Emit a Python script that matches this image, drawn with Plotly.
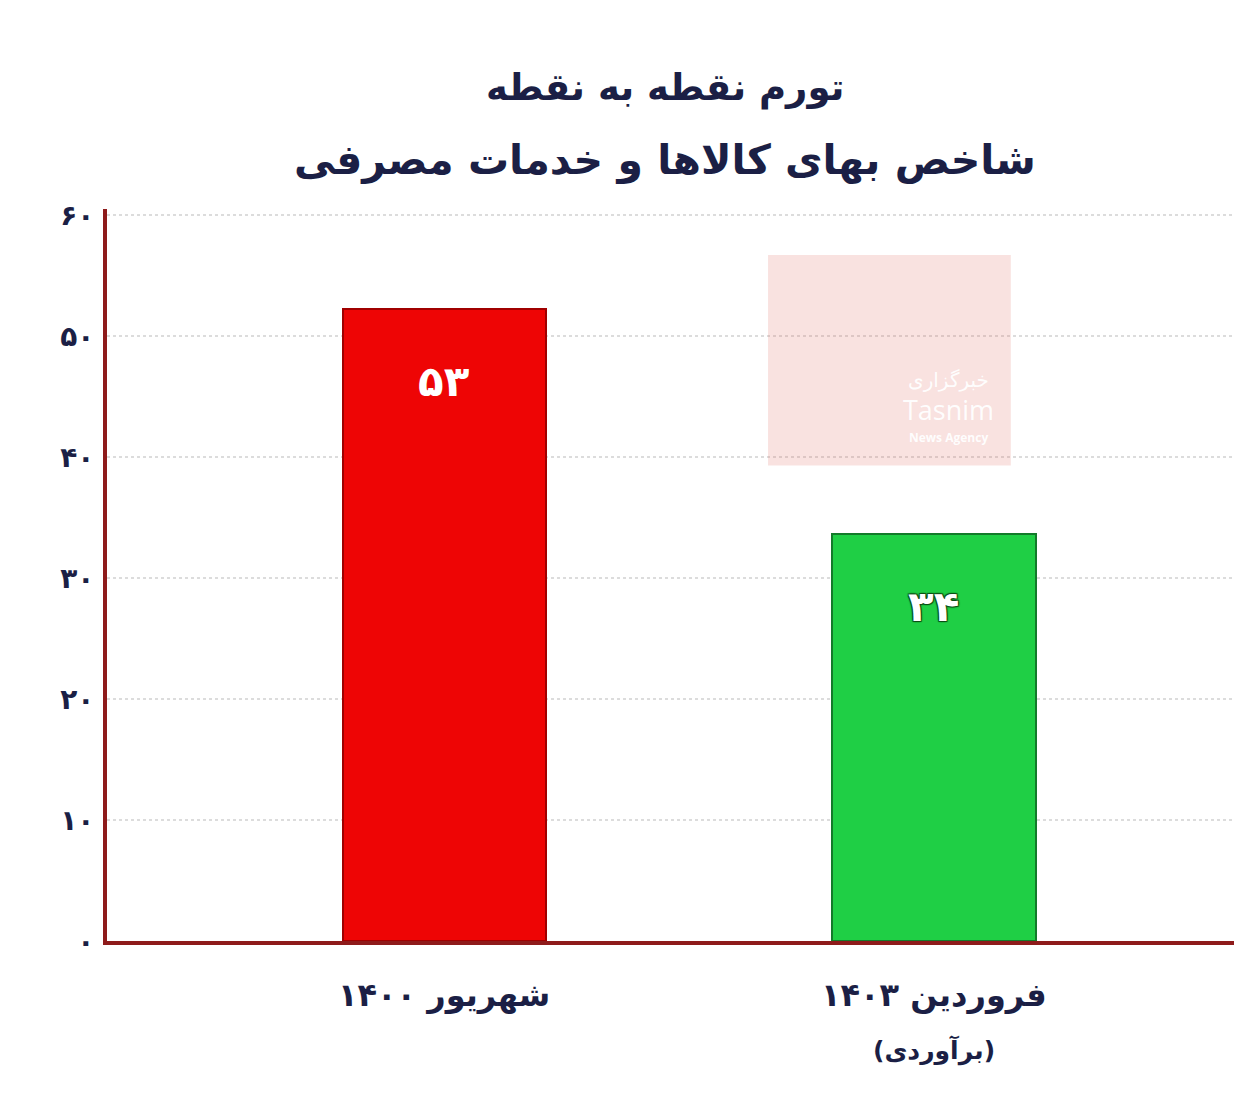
import plotly.graph_objects as go

# ---- data ----
title_lines = ["تورم نقطه به نقطه", "شاخص بهای کالاها و خدمات مصرفی"]
categories = ["شهریور ۱۴۰۰", "فروردین ۱۴۰۳"]
category_notes = ["", "(برآوردی)"]
values = [52.2, 33.6]
value_labels = ["۵۳", "۳۴"]
bar_colors = ["#ee0505", "#1fcf45"]
bar_edges = ["#a00000", "#137a2a"]
label_colors = ["#ffffff", "#ffffff"]
tick_vals = [0, 10, 20, 30, 40, 50, 60]
tick_labels = ["۰", "۱۰", "۲۰", "۳۰", "۴۰", "۵۰", "۶۰"]

FONT = "DejaVu Sans"
NAVY = "#1b1f45"
AXIS_RED = "#8e1b1b"
label_shadows = ["none",
                 "1px 1px 1px #0b4d14, -1px -1px 1px #0b4d14, 1px -1px 1px #0b4d14, -1px 1px 1px #0b4d14"]

W, H = 1234, 1112
L, T, R = 107, 209, 0
B = H - 941
pw, ph = W - L - R, H - T - B


def px_to_paper(px, py):
    return (px - L) / pw, (H - B - py) / ph


x_pos = list(range(len(categories)))

fig = go.Figure()
fig.add_trace(go.Bar(
    x=x_pos, y=values, width=0.415,
    marker=dict(color=bar_colors, line=dict(color=bar_edges, width=2)),
    hoverinfo="skip", showlegend=False,
))

annotations = []
# bar value labels
for xi, v, lab, c, sh in zip(x_pos, values, value_labels, label_colors, label_shadows):
    annotations.append(dict(x=xi, y=v, xref="x", yref="y", text="<b>%s</b>" % lab,
                            showarrow=False, yshift=-72, yanchor="middle",
                            font=dict(family=FONT, size=42, color=c, shadow=sh)))
# category labels
for xi, cat, note in zip(x_pos, categories, category_notes):
    annotations.append(dict(x=xi, y=0, xref="x", yref="paper", text="<b>%s</b>" % cat,
                            showarrow=False, yshift=-54, yanchor="middle",
                            font=dict(family=FONT, size=32, color=NAVY)))
    if note:
        annotations.append(dict(x=xi, y=0, xref="x", yref="paper", text="<b>%s</b>" % note,
                                showarrow=False, yshift=-109, yanchor="middle",
                                font=dict(family=FONT, size=25, color=NAVY)))
# title lines
for line, py, sz in zip(title_lines, [88, 160], [37, 41]):
    ax, ay = px_to_paper(665, py)
    annotations.append(dict(x=ax, y=ay, xref="paper", yref="paper", xanchor="center",
                            yanchor="middle", text="<b>%s</b>" % line, showarrow=False,
                            font=dict(family=FONT, size=sz, color=NAVY)))

# watermark (Tasnim)
annotations += [
    dict(x=1.03, y=46.4, xref="x", yref="y", text="خبرگزاری", showarrow=False,
         font=dict(family=FONT, size=20, color="rgba(255,255,255,0.95)")),
    dict(x=1.03, y=43.9, xref="x", yref="y", text="Tasnim", showarrow=False,
         font=dict(family="Open Sans", size=27, color="rgba(255,255,255,0.95)")),
    dict(x=1.03, y=41.6, xref="x", yref="y", text="<b>News Agency</b>", showarrow=False,
         font=dict(family="Open Sans", size=12, color="rgba(255,255,255,0.95)")),
]

fig.update_layout(
    width=W, height=H,
    margin=dict(l=L, r=R, t=T, b=B),
    paper_bgcolor="white", plot_bgcolor="white",
    bargap=0,
    annotations=annotations,
    shapes=[dict(type="rect", xref="x", yref="y", x0=0.661, x1=1.157, y0=39.3, y1=56.7,
                 fillcolor="rgba(225,110,100,0.2)", line=dict(width=0), layer="above")],
    xaxis=dict(range=[-0.6895, 1.613], showticklabels=False, showgrid=False, zeroline=False,
               showline=True, linecolor=AXIS_RED, linewidth=4, ticks=""),
    yaxis=dict(range=[0, 60.5], tickvals=tick_vals, ticktext=["<b>%s</b>" % t for t in tick_labels],
               tickfont=dict(family=FONT, size=28, color=NAVY),
               showgrid=True, gridcolor="#dcdcdc", griddash="dot", gridwidth=2,
               zeroline=False, showline=True, linecolor=AXIS_RED, linewidth=4, ticks="",
               ticklabelstandoff=3),
)

fig.write_html("out.html", config=dict(displayModeBar=False),
               post_script="document.body.style.margin='0';document.body.style.overflow='hidden';")
